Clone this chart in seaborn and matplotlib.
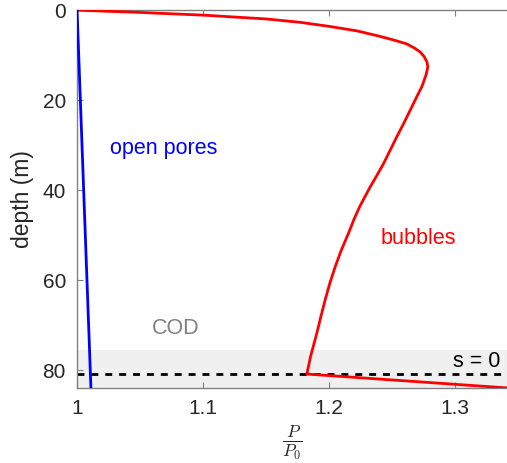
import matplotlib
matplotlib.use("Agg")
import matplotlib.pyplot as plt
import seaborn as sns
import pandas as pd

# pressure ratio P/P0 against depth
bubble_depth = [0, 0.5, 1.1, 1.95, 2.7, 3.6, 4.6, 5.8, 6.7, 7.5, 8.4, 9.3,
                10.4, 11.5, 12.6, 14.2, 17.0, 19.5, 22.2, 25.0, 28.1, 31.1,
                34.1, 36.8, 39.3, 41.5, 43.5, 46.4, 49.6, 53.2, 57.0, 60.7,
                64.4, 68.1, 71.8, 77.0, 80.9, 84.0]
bubble_ratio = [1.0, 1.05, 1.1, 1.15, 1.177, 1.2, 1.222, 1.24, 1.252, 1.2615,
                1.2675, 1.2722, 1.2755, 1.2775, 1.2782, 1.2770, 1.2735, 1.2690,
                1.2643, 1.2594, 1.2537, 1.2484, 1.2431, 1.2377, 1.2325, 1.2283,
                1.2245, 1.2198, 1.2153, 1.2098, 1.2048, 1.2005, 1.1968, 1.1934,
                1.1902, 1.1852, 1.1823, 1.342]
pore_depth = [0, 84.0]
pore_ratio = [1.0, 1.011]

cod_top, cod_bottom = 75.5, 84.0
s_zero_depth = 80.9

bubbles = pd.DataFrame({"ratio": bubble_ratio, "depth": bubble_depth})
pores = pd.DataFrame({"ratio": pore_ratio, "depth": pore_depth})

sns.set_style("white")
plt.rcParams["font.family"] = ["Liberation Sans", "DejaVu Sans"]
plt.rcParams["mathtext.fontset"] = "cm"

fig = plt.figure(figsize=(5.07, 4.63), dpi=100)
ax = fig.add_axes([0.152, 0.162, 0.848, 0.816])

ax.axhspan(cod_top, cod_bottom, color="#f0f0f0", zorder=0, lw=0)
ax.axhline(s_zero_depth, color="black", ls=(0, (2.5, 2.5)), lw=2, zorder=1)

sns.lineplot(data=bubbles, x="ratio", y="depth", sort=False, estimator=None,
             color="red", lw=2, ax=ax, zorder=3, solid_joinstyle="round")
sns.lineplot(data=pores, x="ratio", y="depth", sort=False, estimator=None,
             color="blue", lw=2, ax=ax, zorder=3)

ax.text(1.069, 30.7, "open pores", color="blue", fontsize=15.5, ha="center", va="center")
ax.text(1.2706, 50.7, "bubbles", color="red", fontsize=15.5, ha="center", va="center")
ax.text(1.0786, 70.7, "COD", color="#808080", fontsize=15.5, ha="center", va="center")
ax.text(1.317, 78.0, "s = 0", color="black", fontsize=15.5, ha="center", va="center")

ax.set_xlim(1.0, 1.341)
ax.set_ylim(84, 0)
ax.set_xticks([1.0, 1.1, 1.2, 1.3])
ax.set_xticklabels(["1", "1.1", "1.2", "1.3"])
ax.set_yticks([0, 20, 40, 60, 80])
ax.set_xlabel(r"$\frac{P}{P_0}$", fontsize=18, labelpad=4, color="#262626")
ax.set_ylabel("depth (m)", fontsize=16.5, color="#262626", labelpad=6)

for side in ["left", "bottom", "top"]:
    ax.spines[side].set_color("#808080")
    ax.spines[side].set_linewidth(1)
ax.spines["right"].set_visible(False)
ax.tick_params(direction="in", length=4, width=0.8, color="#808080",
               labelsize=15, labelcolor="#262626", top=True, left=True, bottom=True,
               pad=8)

fig.savefig("out.png", dpi=100)
